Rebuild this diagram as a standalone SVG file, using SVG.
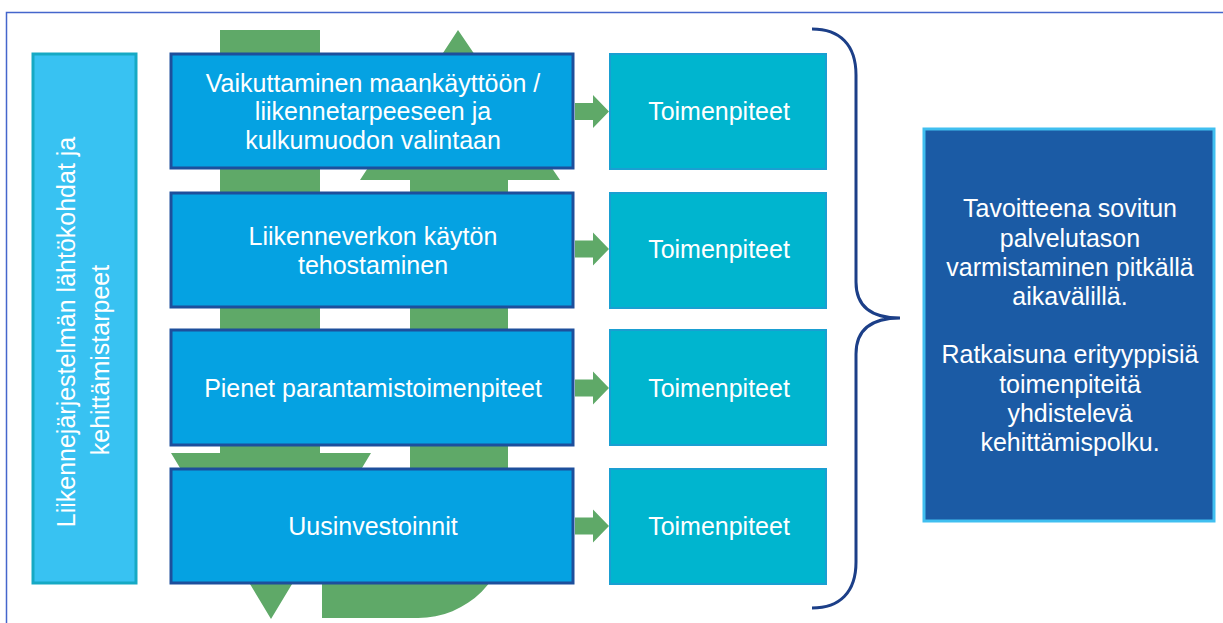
<svg xmlns="http://www.w3.org/2000/svg" width="1223" height="623" viewBox="0 0 1223 623">
<style>
.t{font-family:"Liberation Sans",Arial,sans-serif;font-size:25px;fill:#ffffff;text-anchor:middle}
.main{fill:#05a2e2;stroke:#1d4f9c;stroke-width:3}
.act{fill:#00b5cf;stroke:#1a9fd2;stroke-width:2}
.g{fill:#5fa968}
</style>
<defs>
<path id="arr" d="M0,-8.5 L18,-8.5 L18,-16.5 L34,0 L18,16.5 L18,8.5 L0,8.5 Z"/>
</defs>
<rect width="1223" height="623" fill="#ffffff"/>
<path d="M6.5,623 L6.5,12.5 L1223,12.5" fill="none" stroke="#4466cc" stroke-width="1.5"/>

<g id="cycle-arrows">
<path class="g" d="M220,30 L320,30 L320,453 L371,453 L271,619 L171,453 L220,453 Z"/>
<path class="g" d="M458,30 L560,180 L508,180 L508,528 A90,90 0 0 1 418,618 L322,618 L322,520 L410,520 L410,180 L360,180 Z"/>
</g>

<g id="left-box">
<rect x="33" y="54" width="103" height="529" fill="#38c2f2" stroke="#16a9c4" stroke-width="3"/>
<text class="t" transform="translate(75,332) rotate(-90)">Liikennejärjestelmän lähtökohdat ja</text>
<text class="t" transform="translate(109,360) rotate(-90)">kehittämistarpeet</text>
</g>

<g id="box1">
<rect class="main" x="171" y="54" width="402" height="114"/>
<text class="t" x="373" y="92">Vaikuttaminen maankäyttöön /</text>
<text class="t" x="373" y="120">liikennetarpeeseen ja</text>
<text class="t" x="373" y="149">kulkumuodon valintaan</text>
</g>
<g id="box2">
<rect class="main" x="171" y="193" width="402" height="114"/>
<text class="t" x="373" y="245">Liikenneverkon käytön</text>
<text class="t" x="373" y="274">tehostaminen</text>
</g>
<g id="box3">
<rect class="main" x="171" y="330" width="402" height="115"/>
<text class="t" x="373" y="397">Pienet parantamistoimenpiteet</text>
</g>
<g id="box4">
<rect class="main" x="171" y="469" width="402" height="114"/>
<text class="t" x="373" y="535">Uusinvestoinnit</text>
</g>

<g id="act1"><rect class="act" x="610" y="54" width="216" height="115"/><text class="t" x="719" y="120">Toimenpiteet</text></g>
<g id="act2"><rect class="act" x="610" y="193" width="216" height="115"/><text class="t" x="719" y="258">Toimenpiteet</text></g>
<g id="act3"><rect class="act" x="610" y="330" width="216" height="115"/><text class="t" x="719" y="397">Toimenpiteet</text></g>
<g id="act4"><rect class="act" x="610" y="469" width="216" height="115"/><text class="t" x="719" y="535">Toimenpiteet</text></g>

<g id="connectors">
<use href="#arr" class="g" x="575" y="111.5"/>
<use href="#arr" class="g" x="575" y="249"/>
<use href="#arr" class="g" x="575" y="388"/>
<use href="#arr" class="g" x="575" y="526"/>
<path d="M812,29 C840,29 856,45 856,75 L856,282 C856,305 870,318 900,318 C870,318 856,331 856,354 L856,562 C856,592 840,608 812,608" fill="none" stroke="#1c3f88" stroke-width="3"/>
</g>

<g id="goal">
<rect x="924" y="129" width="290" height="392" fill="#1b5ba5" stroke="#40bff0" stroke-width="3"/>
<text class="t" x="1070" y="217">Tavoitteena sovitun</text>
<text class="t" x="1070" y="247">palvelutason</text>
<text class="t" x="1070" y="276">varmistaminen pitkällä</text>
<text class="t" x="1070" y="305">aikavälillä.</text>
<text class="t" x="1070" y="363">Ratkaisuna erityyppisiä</text>
<text class="t" x="1070" y="393">toimenpiteitä</text>
<text class="t" x="1070" y="422">yhdistelevä</text>
<text class="t" x="1070" y="451">kehittämispolku.</text>
</g>
</svg>
